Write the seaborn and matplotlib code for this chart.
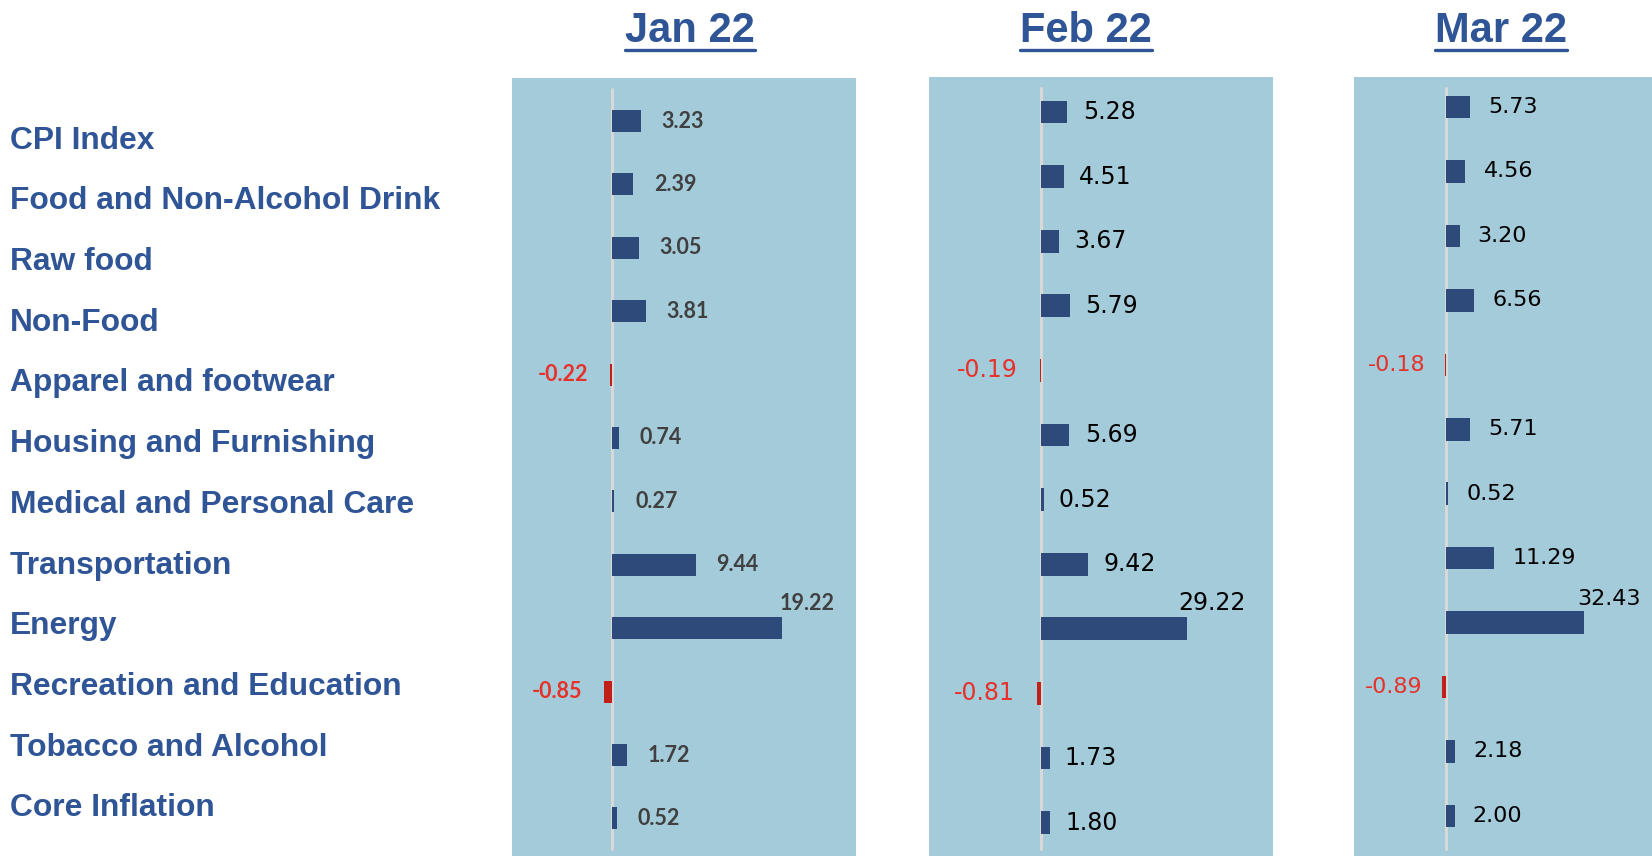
import numpy as np
import pandas as pd
import matplotlib
matplotlib.use("Agg")
import matplotlib.pyplot as plt
import seaborn as sns
from matplotlib.lines import Line2D

# 1. Data (YoY change, %)
categories = ["CPI Index", "Food and Non-Alcohol Drink", "Raw food", "Non-Food",
              "Apparel and footwear", "Housing and Furnishing",
              "Medical and Personal Care", "Transportation", "Energy",
              "Recreation and Education", "Tobacco and Alcohol", "Core Inflation"]
months = ["Jan 22", "Feb 22", "Mar 22"]
jan_values = [3.23, 2.39, 3.05, 3.81, -0.22, 0.74, 0.27, 9.44, 19.22, -0.85, 1.72, 0.52]
feb_values = [5.28, 4.51, 3.67, 5.79, -0.19, 5.69, 0.52, 9.42, 29.22, -0.81, 1.73, 1.80]
mar_values = [5.73, 4.56, 3.20, 6.56, -0.18, 5.71, 0.52, 11.29, 32.43, -0.89, 2.18, 2.00]
month_values = [jan_values, feb_values, mar_values]

# 2. Style
sns.set_theme(style="white")
plt.rcParams["font.family"] = ["Liberation Sans", "DejaVu Sans"]

TXT_BLUE = "#2F5597"
BAR_BLUE = "#2E4A7A"
BAR_RED = "#C0201A"
TXT_RED = "#E5322A"
PANEL_BG = "#A4CBDA"
W, H = 1652, 856


def px_rect(left, top, width, bottom=H):
    return [left / W, 1 - bottom / H, width / W, (bottom - top) / H]


# panel geometry in pixels + label style for each month
panels = [
    dict(left=512, width=344, top=78, zero=612, scale=8.85, first=121, step=63.4,
         title_x=690, font="Lato", weight="bold", size=15.5, color="#404040", pad=15, neg_pad=16),
    dict(left=929, width=344, top=77, zero=1041, scale=5.0, first=112, step=64.6,
         title_x=1086, font="DejaVu Sans", weight="normal", size=17, color="black", pad=11, neg_pad=16),
    dict(left=1354, width=298, top=77, zero=1446, scale=4.26, first=107, step=64.45,
         title_x=1501, font="DejaVu Sans", weight="normal", size=16, color="black", pad=13, neg_pad=14),
]

fig = plt.figure(figsize=(W / 100, H / 100), dpi=100)

# 3. Row labels on the left
lab_ax = fig.add_axes(px_rect(10, 77, 460))
lab_ax.set_axis_off()
lab_ax.set_xlim(0, 1)
lab_ax.set_ylim(11 + (H - 805) / 60.7, -(137 - 77) / 60.7)
for i, c in enumerate(categories):
    lab_ax.text(0, i, c, ha="left", va="center_baseline", fontsize=22.9,
                weight="bold", color=TXT_BLUE)

# 4. One bar panel per month
titles = []
for month, vals, p in zip(months, month_values, panels):
    ax = fig.add_axes(px_rect(p["left"], p["top"], p["width"]))
    df = pd.DataFrame({"category": categories, "value": vals})
    df["sign"] = np.where(df["value"] < 0, "neg", "pos")
    sns.barplot(data=df, x="value", y="category", hue="sign", orient="h",
                palette={"pos": BAR_BLUE, "neg": BAR_RED}, dodge=False,
                width=0.35, saturation=1, legend=False, linewidth=0, ax=ax)

    ax.set_facecolor(PANEL_BG)
    ax.set_xlim(-(p["zero"] - p["left"]) / p["scale"],
                (p["left"] + p["width"] - p["zero"]) / p["scale"])
    last = p["first"] + 11 * p["step"]
    ax.set_ylim(11 + (H - last) / p["step"], -(p["first"] - p["top"]) / p["step"])
    ax.set(xlabel="", ylabel="", xticks=[], yticks=[])
    for s in ax.spines.values():
        s.set_visible(False)
    ax.axvline(0, ymin=0.009, ymax=0.986, color="#D8D8D8", lw=2.2, zorder=0.5)

    vmax = max(vals)
    for i, v in enumerate(vals):
        txt = f"{v:.2f}"
        kw = dict(fontsize=p["size"], family=p["font"], weight=p["weight"],
                  textcoords="offset points")
        if v == vmax:
            ax.annotate(txt, xy=(v, i - 0.175), xytext=(18, 2), ha="center",
                        va="bottom", color=p["color"], **kw)
        elif v < 0:
            ax.annotate(txt, xy=(v, i), xytext=(-p["neg_pad"], 0), ha="right",
                        va="center", color=TXT_RED, **kw)
        else:
            ax.annotate(txt, xy=(v, i), xytext=(p["pad"], 0), ha="left",
                        va="center", color=p["color"], **kw)

    t = fig.text(p["title_x"] / W, 1 - 42 / H, month, ha="center", va="baseline",
                 fontsize=30, weight="bold", color=TXT_BLUE)
    titles.append(t)

# 5. Underline the month titles
fig.canvas.draw()
for t in titles:
    bb = t.get_window_extent()
    fig.add_artist(Line2D([bb.x0 / W, bb.x1 / W], [1 - 50 / H, 1 - 50 / H],
                          transform=fig.transFigure, color=TXT_BLUE, lw=2.4))

fig.savefig("out.png", dpi=100)
